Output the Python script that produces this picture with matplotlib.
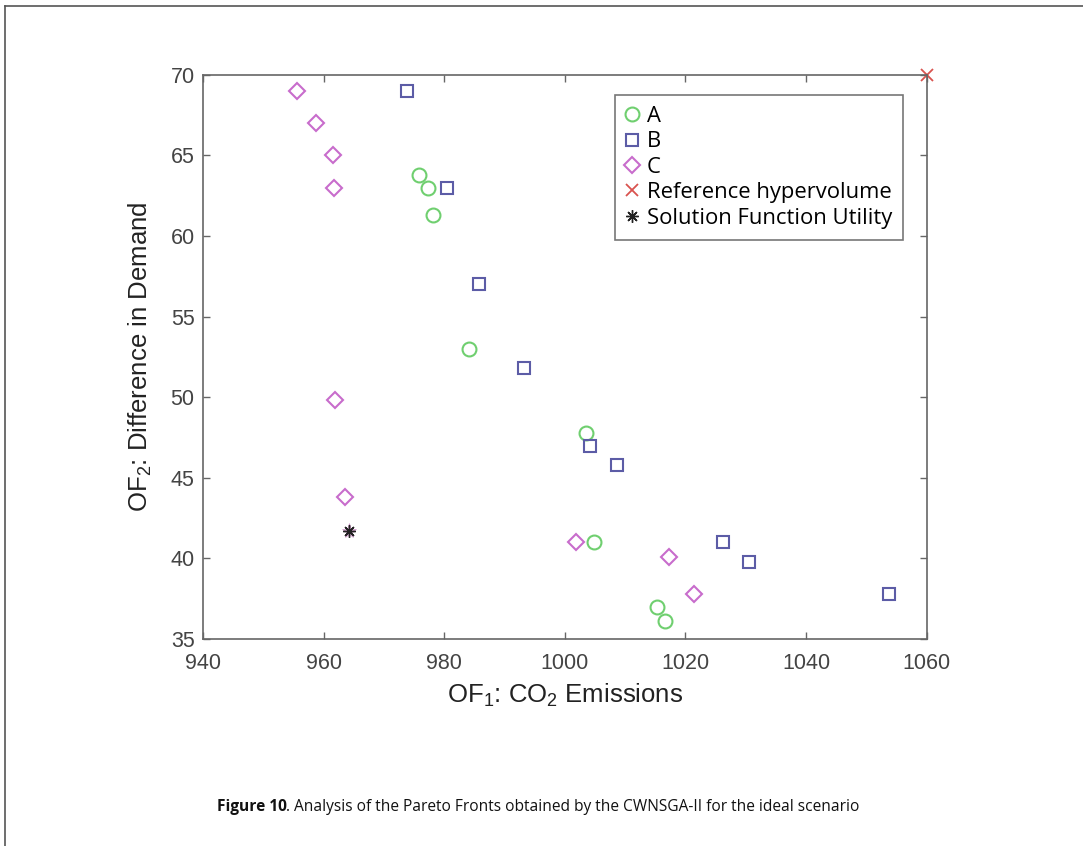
import matplotlib
matplotlib.use("Agg")
import matplotlib.pyplot as plt
from matplotlib.lines import Line2D

plt.rcParams['font.family'] = ['Liberation Sans', 'DejaVu Sans']
plt.rcParams['mathtext.default'] = 'regular'

# Pareto front A (circles)
a_x = [975.9, 977.3, 978.1, 984.1, 1003.5, 1004.8, 1015.3, 1016.7]
a_y = [63.8, 63.0, 61.3, 53.0, 47.8, 41.0, 37.0, 36.1]

# Pareto front B (squares)
b_x = [973.9, 980.5, 985.7, 993.3, 1004.2, 1008.7, 1026.2, 1030.6, 1053.8]
b_y = [69.0, 63.0, 57.0, 51.8, 47.0, 45.8, 41.0, 39.8, 37.8]

# Pareto front C (diamonds)
c_x = [955.6, 958.7, 961.6, 961.8, 961.9, 963.5, 1001.9, 1017.3, 1021.5]
c_y = [69.0, 67.0, 65.0, 63.0, 49.8, 43.8, 41.0, 40.1, 37.8]

ref_x = [1060]
ref_y = [70]

sol_x = [964.3]
sol_y = [41.7]

caption_bold = 'Figure 10'
caption_rest = '. Analysis of the Pareto Fronts obtained by the CWNSGA-II for the ideal scenario'

fig = plt.figure(figsize=(10.83, 8.46), dpi=100)
ax = fig.add_axes([0.1874, 0.2447, 0.6682, 0.667])

ax.plot(a_x, a_y, 'o', ls='none', mfc='none', mec='#6fcf6f', mew=1.5, ms=10, label='A')
ax.plot(b_x, b_y, 's', ls='none', mfc='none', mec='#5c5ca6', mew=1.5, ms=8, label='B')
ax.plot(c_x, c_y, 'D', ls='none', mfc='none', mec='#c86ccc', mew=1.5, ms=8.5, label='C')
ax.plot(ref_x, ref_y, 'x', ls='none', color='#d9534f', mew=1.3, ms=8,
        label='Reference hypervolume', clip_on=False)
ax.plot(sol_x, sol_y, '*', ls='none', color='#b05aa8', ms=11, mew=0.5, alpha=0.5)
ax.plot(sol_x, sol_y, marker=(8, 2, 0), ls='none', color='#222222', ms=9, mew=1.0,
        label='Solution Function Utility')

ax.set_xlim(940, 1060)
ax.set_ylim(35, 70)
ax.set_xticks(range(940, 1061, 20))
ax.set_yticks(range(35, 71, 5))

for s in ax.spines.values():
    s.set_color('#666666')
    s.set_linewidth(1.2)
ax.tick_params(direction='in', top=True, right=True, length=5, width=1,
               color='#666666', labelcolor='#444444', labelsize=15.5)
ax.tick_params(axis='x', pad=10)
ax.tick_params(axis='y', pad=6)

ax.set_xlabel('OF$_1$: CO$_2$ Emissions', fontsize=18.5, color='#222222', labelpad=6)
ax.set_ylabel('OF$_2$: Difference in Demand', fontsize=18.5, color='#222222', labelpad=12)

leg = ax.legend(loc='upper right', bbox_to_anchor=(0.967, 0.964), borderaxespad=0,
                frameon=True, fancybox=False, edgecolor='#555555', handlelength=0.6,
                handletextpad=0.35, borderpad=0.5, labelspacing=0.2,
                prop={'family': 'Open Sans', 'size': 15.8})
leg.get_frame().set_linewidth(1.2)

# caption: bold lead-in followed by the rest
t1 = fig.text(0.2, 0.046, caption_bold, fontsize=11.2, fontweight='bold',
              family='Open Sans', color='#111111', ha='left', va='center')
fig.canvas.draw()
bb = t1.get_window_extent(fig.canvas.get_renderer()).transformed(fig.transFigure.inverted())
fig.text(bb.x1, 0.046, caption_rest, fontsize=11.2, family='Open Sans',
         color='#111111', ha='left', va='center')

# page frame lines
fig.add_artist(Line2D([0.005, 1.0], [0.993, 0.993], color='#555555', lw=1.2,
                      transform=fig.transFigure))
fig.add_artist(Line2D([0.005, 0.005], [0.0, 0.993], color='#555555', lw=1.2,
                      transform=fig.transFigure))

fig.savefig('out.png', dpi=100)
